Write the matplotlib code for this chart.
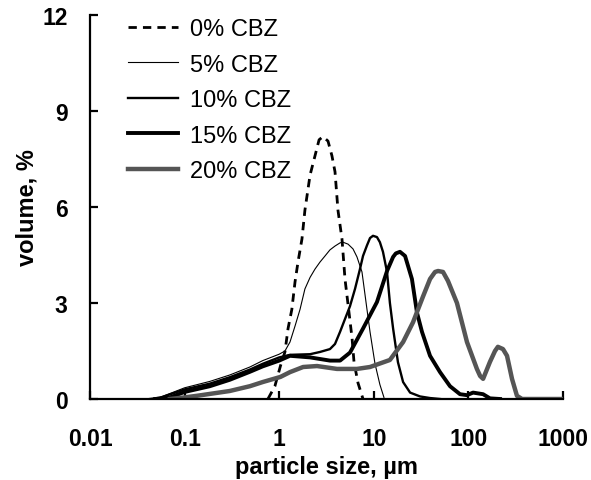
import numpy as np
import matplotlib
matplotlib.use("Agg")
import matplotlib.pyplot as plt

plt.rcParams['font.family'] = ['Liberation Sans', 'DejaVu Sans']

# particle size (um) / volume (%)
size_0 = [0.76, 0.90, 1.03, 1.15, 1.24, 1.36, 1.47, 1.58, 1.74, 1.87, 2.12, 2.39, 2.64, 2.90,
          3.28, 3.61, 3.89, 4.18, 4.61, 4.96, 5.47, 5.89, 6.18, 6.81, 7.69]
vol_0 = [0, 0.4, 1.03, 1.47, 2.2, 2.8, 3.66, 4.28, 5.0, 5.9, 7.0, 7.6, 8.1, 8.2,
         8.06, 7.6, 7.1, 5.9, 5.0, 3.75, 2.7, 1.9, 1.15, 0.5, 0.0]

size_5 = [0.043, 0.055, 0.1, 0.185, 0.30, 0.49, 0.67, 1.0, 1.15, 1.30, 1.47, 1.66, 1.87, 2.12,
          2.39, 2.70, 3.05, 3.44, 3.89, 4.40, 4.72, 5.34, 6.03, 6.64, 7.50, 8.47, 9.12,
          10.3, 11.6, 12.8]
vol_5 = [0, 0.05, 0.35, 0.55, 0.75, 1.0, 1.2, 1.4, 1.5, 1.78, 2.28, 2.8, 3.44, 3.8,
         4.06, 4.28, 4.47, 4.66, 4.78, 4.88, 4.9, 4.84, 4.69, 4.44, 3.97, 2.8, 2.1,
         1.1, 0.45, 0.05]

size_10 = [0.043, 0.055, 0.1, 0.185, 0.30, 0.49, 0.67, 1.0, 1.30, 2.12, 2.70, 3.44, 3.89, 4.40,
           4.96, 5.60, 6.33, 7.14, 7.69, 8.47, 9.12, 9.81, 10.8, 11.6, 12.5, 13.8, 14.8,
           16.0, 18.0, 20.4, 24.2, 30.8, 39.3, 50.1]
vol_10 = [0, 0.04, 0.3, 0.48, 0.68, 0.92, 1.1, 1.3, 1.38, 1.4, 1.47, 1.56, 1.72, 2.1,
          2.5, 2.9, 3.44, 4.06, 4.47, 4.8, 5.03, 5.1, 5.06, 4.9, 4.6, 3.97, 3.0,
          2.2, 1.15, 0.53, 0.2, 0.08, 0.03, 0]

size_15 = [0.049, 0.070, 0.1, 0.185, 0.30, 0.49, 0.67, 1.0, 1.30, 2.12, 3.44, 4.40, 5.60, 7.69,
           10.8, 13.8, 16.0, 17.1, 18.9, 21.4, 23.0, 25.3, 28.6, 32.3, 39.3, 50.1, 63.9,
           81.5, 96.6, 112, 143, 169, 216]
vol_15 = [0, 0.05, 0.22, 0.4, 0.6, 0.85, 1.02, 1.2, 1.35, 1.3, 1.2, 1.2, 1.45, 2.2,
          3.03, 4.0, 4.44, 4.55, 4.6, 4.47, 4.16, 3.75, 2.7, 2.1, 1.35, 0.84, 0.4,
          0.15, 0.12, 0.2, 0.15, 0.02, 0]

size_20 = [0.070, 0.1, 0.135, 0.30, 0.49, 0.67, 1.03, 1.30, 1.79, 2.51, 4.08, 6.64, 9.12, 14.8,
           20.4, 26.0, 33.1, 39.3, 44.4, 47.8, 53.9, 60.8, 75.7, 96.6, 123, 133, 143, 169,
           191, 205, 232, 256, 289, 326, 369, 1000]
vol_20 = [0, 0.05, 0.1, 0.25, 0.4, 0.53, 0.69, 0.84, 1.0, 1.03, 0.94, 0.94, 1.0, 1.22,
          1.78, 2.4, 3.2, 3.75, 3.97, 4.0, 3.97, 3.69, 3.0, 1.78, 0.94, 0.72, 0.63, 1.16,
          1.5, 1.63, 1.56, 1.35, 0.63, 0.1, 0, 0]

x_ticks = [0.01, 0.1, 1, 10, 100, 1000]
x_labels = ['0.01', '0.1', '1', '10', '100', '1000']
y_ticks = [0, 3, 6, 9, 12]

fig = plt.figure(figsize=(5.91, 4.81), dpi=100)
ax = fig.add_axes([90 / 591, 81 / 481, 473 / 591, 384 / 481])

ax.plot(size_0, vol_0, color='black', lw=2.0, ls=(0, (3, 2.2)), label='0% CBZ')
ax.plot(size_5, vol_5, color='black', lw=0.8, label='5% CBZ')
ax.plot(size_10, vol_10, color='black', lw=1.7, label='10% CBZ')
ax.plot(size_15, vol_15, color='black', lw=2.8, label='15% CBZ')
ax.plot(size_20, vol_20, color='#555555', lw=3.2, label='20% CBZ')

ax.set_xscale('log')
ax.set_xlim(0.01, 1000)
ax.set_ylim(0, 12)
ax.set_xticks(x_ticks, labels=x_labels)
ax.xaxis.set_minor_locator(matplotlib.ticker.NullLocator())
ax.set_yticks(y_ticks)

for s in ['top', 'right']:
    ax.spines[s].set_visible(False)
for s in ['left', 'bottom']:
    ax.spines[s].set_linewidth(1.6)
ax.tick_params(direction='in', length=6, width=1.6, labelsize=16.5)
ax.tick_params(axis='x', pad=20)
ax.tick_params(axis='y', pad=16)
for lab in ax.get_xticklabels() + ax.get_yticklabels():
    lab.set_fontweight('bold')

ax.set_xlabel('particle size, µm', fontsize=17, fontweight='bold', labelpad=4)
ax.set_ylabel('volume, %', fontsize=17, fontweight='bold', labelpad=3)

ax.legend(loc='upper left', bbox_to_anchor=(29 / 473, 1.016), frameon=False,
          fontsize=17, handlelength=2.1, handletextpad=0.5, labelspacing=0.57,
          borderaxespad=0)

fig.savefig('out.png', dpi=100)
